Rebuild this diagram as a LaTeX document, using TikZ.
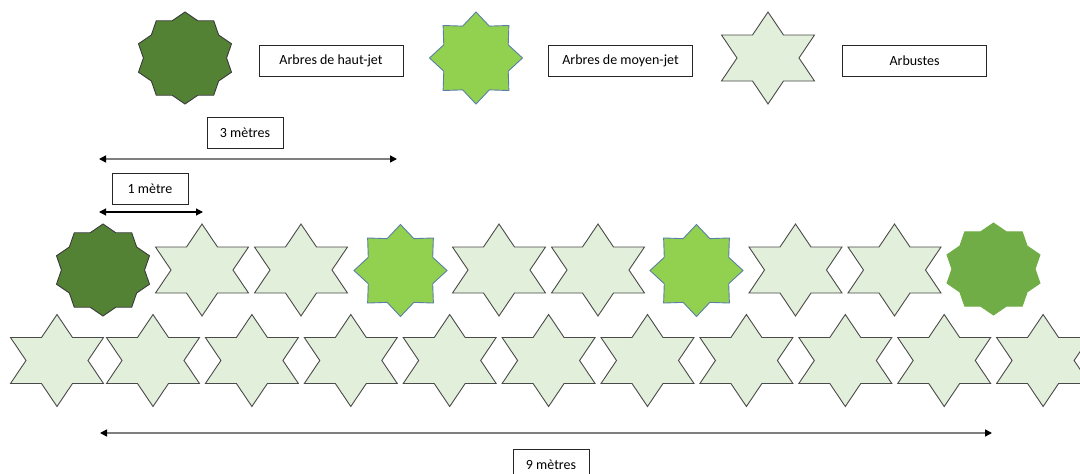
\documentclass[tikz,border=0pt]{standalone}
\usepackage{fontspec}
\setmainfont{Carlito}
\usetikzlibrary{arrows.meta}
\definecolor{hjfill}{HTML}{548235}
\definecolor{hjline}{HTML}{3A3A3A}
\definecolor{mjfill}{HTML}{92D050}
\definecolor{mjline}{HTML}{5B7FA6}
\definecolor{arfill}{HTML}{E2EFDA}
\definecolor{arline}{HTML}{4A4A4A}
\definecolor{hjbfill}{HTML}{70AD47}
\definecolor{dimgray}{HTML}{7F7F7F}
\tikzset{
  pics/star10/.style={code={
    \path[pic actions] plot[domain=0:19,samples=20,variable=\k]
      ({46.5*(1-0.14934*mod(round(\k),2))*cos(90+18*\k)/0.95106},
       {46*(1-0.14934*mod(round(\k),2))*sin(90+18*\k)}) -- cycle;
  }},
  pics/star8/.style={code={
    \path[pic actions] plot[domain=0:15,samples=16,variable=\k]
      ({46.5*(1-0.25*mod(round(\k),2))*cos(90+22.5*\k)},
       {46*(1-0.25*mod(round(\k),2))*sin(90+22.5*\k)}) -- cycle;
  }},
  pics/star6/.style={code={
    \path[pic actions] plot[domain=0:11,samples=12,variable=\k]
      ({46.5*(1-0.42264*mod(round(\k),2))*cos(90+30*\k)/0.86603},
       {46*(1-0.42264*mod(round(\k),2))*sin(90+30*\k)}) -- cycle;
  }},
  hautjet/.style={fill=hjfill, draw=hjline, line width=0.9pt, line join=miter},
  hautjetb/.style={fill=hjbfill, draw=hjbfill, line width=0.9pt},
  moyenjet/.style={fill=mjfill, draw=mjline, line width=0.9pt},
  arbuste/.style={fill=arfill, draw=arline, line width=0.9pt},
  lbox/.style={draw=black!85, line width=0.8pt, fill=white, inner sep=0pt,
    minimum width=144pt, minimum height=31pt, font=\fontsize{14}{16}\selectfont},
  sbox/.style={lbox, minimum width=76pt},
  dimarrow/.style={draw=dimgray, line width=1.5pt,
    arrows={Triangle[color=black,length=7pt,width=7pt]-Triangle[color=black,length=7pt,width=7pt]}},
  dimarrowk/.style={draw=black, line width=1.1pt,
    arrows={Triangle[length=7pt,width=7pt]-Triangle[length=7pt,width=7pt]}},
}
\begin{document}
\begin{tikzpicture}[x=1pt,y=-1pt]
\useasboundingbox (0,0) rectangle (1080,474);

% legend
\pic[hautjet] (lhj) at (185,58) {star10};
\node[lbox] (thj) at (331,61) {Arbres de haut-jet};
\pic[moyenjet] (lmj) at (476,58) {star8};
\node[lbox] (tmj) at (620.5,61) {Arbres de moyen-jet};
\pic[arbuste] (lar) at (768,58) {star6};
\node[lbox] (tar) at (914.5,60.5) {Arbustes};

% dimensions
\node[sbox] (t3) at (245,132.5) {3 mètres};
\coordinate (a3l) at (99,159);
\coordinate (a3r) at (397,159);
\draw[dimarrow] (a3l) -- (a3r);
\node[sbox] (t1) at (150,189) {1 mètre};
\coordinate (a1l) at (99,212);
\coordinate (a1r) at (203,212);
\draw[dimarrowk] (a1l) -- (a1r);

% row 1
\pic[hautjet]  (r1a) at (103,270) {star10};
\pic[arbuste]  (r1b) at (202,270) {star6};
\pic[arbuste]  (r1c) at (301,270) {star6};
\pic[moyenjet] (r1d) at (400.5,270.5) {star8};
\pic[arbuste]  (r1e) at (499,270) {star6};
\pic[arbuste]  (r1f) at (598,270) {star6};
\pic[moyenjet] (r1g) at (696.5,270.5) {star8};
\pic[arbuste]  (r1h) at (795.5,270) {star6};
\pic[arbuste]  (r1i) at (894.5,270) {star6};
\pic[hautjetb] (r1j) at (993.5,269) {star10};

% row 2
\pic[arbuste] (r2a) at (57,360.5) {star6};
\foreach \i/\nm in {0/b,1/c,2/d,3/e,4/f,5/g,6/h,7/i,8/j,9/k}{
  \pic[arbuste] (r2\nm) at ({153+98.9*\i},360.5) {star6};
}

% 9 metres
\coordinate (a9l) at (100,433);
\coordinate (a9r) at (992,433);
\draw[dimarrow] (a9l) -- (a9r);
\node[sbox] (t9) at (551,464.5) {9 mètres};
\end{tikzpicture}
\end{document}
